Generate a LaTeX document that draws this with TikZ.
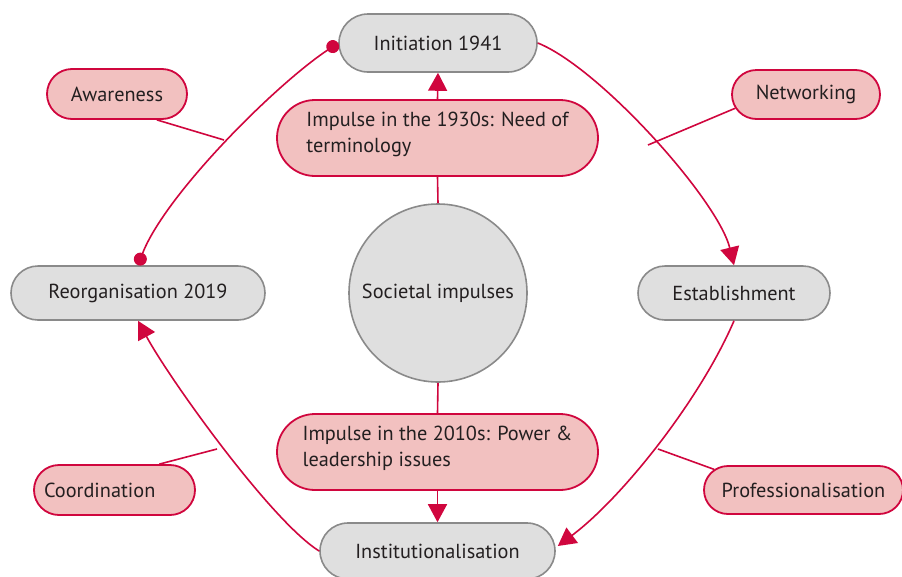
\documentclass[tikz,border=0pt]{standalone}
\usepackage{fontspec}
\setmainfont{PT Sans}
\usetikzlibrary{shapes.misc,arrows.meta}
\definecolor{crim}{RGB}{208,6,62}
\definecolor{pinkf}{RGB}{242,193,192}
\definecolor{grayf}{RGB}{223,223,223}
\definecolor{grayd}{RGB}{138,138,138}
\definecolor{txt}{RGB}{35,31,32}
\newcommand{\lowstrut}{\rule[-12pt]{0pt}{1pt}}
\begin{document}
\begin{tikzpicture}[x=1pt,y=-1pt,
  every node/.style={font=\fontsize{20.3}{26}\selectfont, text=txt},
  graybox/.style={shape=rounded rectangle, draw=grayd, fill=grayf, line width=1.6pt, inner sep=0pt},
  pinkbox/.style={shape=rounded rectangle, draw=crim, fill=pinkf, line width=1.8pt, inner sep=0pt},
  link/.style={draw=crim, line width=1.6pt},
  arr/.style={link, -{Triangle[width=19pt,length=18pt]}},
  dotted ends/.style={link, {Circle[length=13pt]}-{Circle[length=13pt]}}
]
\clip (0,0) rectangle (902,576);
\fill[white] (0,0) rectangle (902,576);
% central circle
\node[circle, draw=grayd, fill=grayf, line width=1.6pt, minimum size=178pt, inner sep=0pt] (soc) at (438,293) {Societal impulses};
% gray nodes
\node[graybox, minimum width=198pt, minimum height=58pt] (init) at (438,43) {Initiation 1941};
\node[graybox, minimum width=254pt, minimum height=54pt] (reorg) at (138,293) {Reorganisation 2019};
\node[graybox, minimum width=192pt, minimum height=54pt] (estab) at (734,293) {Establishment};
\node[graybox, minimum width=235pt, minimum height=56pt] (inst) at (437.5,551) {Institutionalisation};
% pink impulse nodes
\node[pinkbox, minimum width=321pt, minimum height=76pt, align=left] (imp30) at (437.5,138) {Impulse in the 1930s: Need of\\terminology\lowstrut};
\node[pinkbox, minimum width=321pt, minimum height=76pt, align=left] (imp10) at (437.5,452) {Impulse in the 2010s: Power \&\\leadership issues\lowstrut};
% pink side nodes
\node[pinkbox, minimum width=140pt, minimum height=50pt] (aware) at (117,94) {Awareness};
\node[pinkbox, minimum width=148pt, minimum height=49pt] (net) at (806,94.5) {Networking};
\node[pinkbox, minimum width=161pt, minimum height=50pt, text width=141pt, align=left] (coord) at (114.5,490) {Coordination};
\node[pinkbox, minimum width=199pt, minimum height=48pt] (prof) at (803.5,490) {Professionalisation};
% vertical connectors
\draw[link] (soc.north) -- (imp30.south);
\draw[arr] (imp30.north) -- (init.south);
\draw[link] (soc.south) -- (imp10.north);
\draw[arr] (imp10.south) -- (inst.north);
% cycle curves
\draw[arr] (init.east) .. controls (600,68) and (718,200) .. (estab.north);
\draw[arr] (estab.south) .. controls (700,400) and (622,498) .. ([xshift=2pt]inst.east |- 0,546);
\draw[arr] (inst.west) .. controls (272,522) and (170,380) .. (reorg.south);
\draw[dotted ends] (reorg.north) .. controls (165,195) and (275,85) .. (init.west);
% branch connectors
\coordinate (bA) at (224,140);
\coordinate (bN) at (648,145);
\coordinate (bC) at (217,449);
\coordinate (bP) at (658,449);
\draw[link] (aware.-33) -- (bA);
\draw[link] (net.191) -- (bN);
\draw[link] (coord.30) -- (bC);
\draw[link] (prof.167) -- (bP);
\end{tikzpicture}
\end{document}
